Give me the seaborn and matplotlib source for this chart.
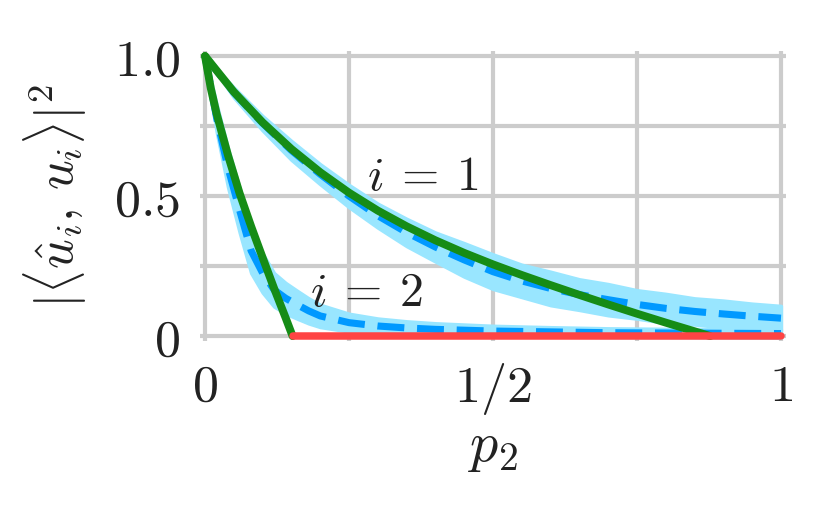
import seaborn as sns
import matplotlib.pyplot as plt

# theory curve, i = 1
x_th1 = [0.00, 0.05, 0.10, 0.15, 0.20, 0.25, 0.30, 0.35, 0.40, 0.45,
         0.50, 0.55, 0.60, 0.65, 0.70, 0.75, 0.80, 0.85, 0.877]
y_th1 = [1.000, 0.872, 0.763, 0.668, 0.585, 0.512, 0.448, 0.392, 0.342, 0.297,
         0.256, 0.218, 0.182, 0.147, 0.113, 0.080, 0.048, 0.017, 0.000]

# theory curve, i = 2
x_th2 = [0.00, 0.01, 0.02, 0.04, 0.06, 0.08, 0.10, 0.12, 0.14, 0.152]
y_th2 = [1.000, 0.885, 0.795, 0.645, 0.510, 0.392, 0.280, 0.170, 0.065, 0.000]

# empirical mean and spread, i = 1
x_emp1 = [0.00, 0.05, 0.10, 0.15, 0.20, 0.25, 0.30, 0.35, 0.40, 0.45, 0.50,
          0.55, 0.60, 0.65, 0.70, 0.75, 0.80, 0.85, 0.90, 0.95, 1.00]
y_emp1 = [1.000, 0.870, 0.760, 0.663, 0.578, 0.500, 0.430, 0.370, 0.318, 0.272, 0.230,
          0.197, 0.170, 0.148, 0.130, 0.113, 0.099, 0.088, 0.079, 0.071, 0.064]
sd_emp1 = [0.000, 0.018, 0.026, 0.034, 0.036, 0.040, 0.043, 0.049, 0.052, 0.060, 0.062,
           0.058, 0.060, 0.055, 0.056, 0.051, 0.052, 0.047, 0.048, 0.045, 0.044]

# empirical mean and spread, i = 2
x_emp2 = [0.00, 0.02, 0.04, 0.06, 0.08, 0.10, 0.12, 0.14, 0.16, 0.18, 0.20,
          0.25, 0.30, 0.35, 0.40, 0.50, 0.60, 0.70, 0.80, 0.90, 1.00]
y_emp2 = [1.000, 0.780, 0.600, 0.450, 0.305, 0.225, 0.165, 0.135, 0.112, 0.090, 0.072,
          0.048, 0.036, 0.029, 0.024, 0.018, 0.015, 0.012, 0.011, 0.010, 0.009]
sd_emp2 = [0.000, 0.050, 0.070, 0.080, 0.080, 0.070, 0.060, 0.055, 0.050, 0.045, 0.040,
           0.032, 0.027, 0.024, 0.022, 0.019, 0.017, 0.016, 0.015, 0.015, 0.015]

# zero line after the phase transition
x_zero = [0.152, 1.0]
y_zero = [0.0, 0.0]

ticks = [0, 0.25, 0.5, 0.75, 1]
xtick_labels = ["$0$", "", "$1/2$", "", "$1$"]
ytick_labels = ["$0$", "", "$0.5$", "", "$1.0$"]

green = "#168c16"
blue = "#0099ff"
band = "#99e6ff"
red = "#ff4444"

sns.set_theme(style="whitegrid")
plt.rcParams["mathtext.fontset"] = "cm"
plt.rcParams["font.family"] = ["DejaVu Serif"]

fig = plt.figure(figsize=(832 / 300, 518 / 300), dpi=300)
ax = fig.add_axes([0.2404, 0.342, 0.7043, 0.559])

# spread bands
for x, m, s in [(x_emp1, y_emp1, sd_emp1), (x_emp2, y_emp2, sd_emp2)]:
    lo = [a - b for a, b in zip(m, s)]
    hi = [a + b for a, b in zip(m, s)]
    ax.fill_between(x, lo, hi, color=band, lw=0.8, edgecolor=band, zorder=1)

# empirical means (dashed)
for x, m in [(x_emp1, y_emp1), (x_emp2, y_emp2)]:
    sns.lineplot(x=x, y=m, ax=ax, color=blue, lw=1.7, linestyle=(0, (3.8, 1.8)),
                 zorder=2)

# theory curves
for x, y in [(x_th1, y_th1), (x_th2, y_th2)]:
    sns.lineplot(x=x, y=y, ax=ax, color=green, lw=1.9, zorder=3,
                 solid_capstyle="round", solid_joinstyle="round")

sns.lineplot(x=x_zero, y=y_zero, ax=ax, color=red, lw=1.8, zorder=4,
             solid_capstyle="round")

ax.text(0.281, 0.52, r"$i\:=\:1$", fontsize=11.5, color="#222222")
ax.text(0.182, 0.107, r"$i\:=\:2$", fontsize=11.5, color="#222222")

ax.set_xlim(-0.0087, 1.0087)
ax.set_ylim(-0.017, 1.017)
ax.set_xticks(ticks)
ax.set_xticklabels(xtick_labels)
ax.set_yticks(ticks)
ax.set_yticklabels(ytick_labels)
ax.tick_params(length=0, pad=4.8, labelsize=12.5, labelcolor="#222222")
ax.grid(True, color="#cccccc", lw=1.0)
for sp in ax.spines.values():
    sp.set_visible(False)

ax.set_xlabel("$p_2$", fontsize=13.5, color="#222222")
ax.set_ylabel(r"$|\langle \hat{u}_i,\, u_i\rangle|^2$", fontsize=12.5, color="#222222")
ax.xaxis.set_label_coords(0.5, -0.27)
ax.yaxis.set_label_coords(-0.19, 0.5)

fig.savefig("out.png", dpi=300)
